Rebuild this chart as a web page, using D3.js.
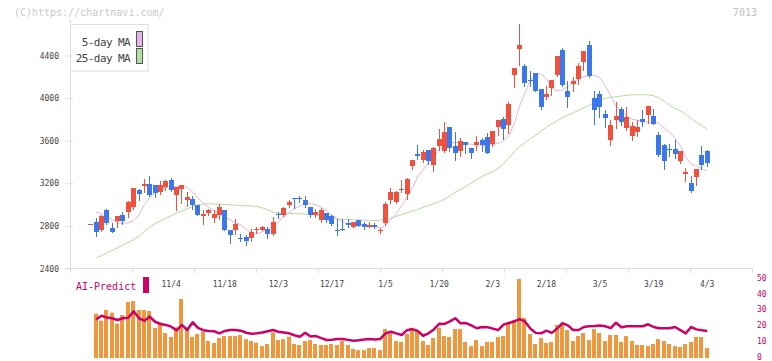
<!DOCTYPE html>
<html><head><meta charset="utf-8">
<script src="https://cdn.jsdelivr.net/npm/d3@7"></script>
<style>
html,body{margin:0;padding:0;background:#fff;}
svg{display:block;}
text{font-family:"DejaVu Sans Mono",monospace;}
</style></head><body>
<svg id="chart" width="772" height="361"></svg>
<script>
const dates = ["10/10","10/14","10/15","10/16","10/17","10/20","10/21","10/22","10/23","10/24","10/27","10/28","10/29","10/30","10/31",
"11/4","11/5","11/6","11/7","11/10","11/11","11/12","11/13","11/14","11/17","11/18","11/19","11/20","11/21","11/25","11/26","11/27","11/28",
"12/1","12/2","12/3","12/4","12/5","12/8","12/9","12/10","12/11","12/12","12/15","12/16","12/17","12/18","12/19","12/22","12/23","12/24","12/25","12/26","12/29","12/30",
"1/5","1/6","1/7","1/8","1/9","1/13","1/14","1/15","1/16","1/19","1/20","1/21","1/22","1/23","1/26","1/27","1/28","1/29","1/30",
"2/2","2/3","2/4","2/5","2/6","2/9","2/10","2/12","2/13","2/16","2/17","2/18","2/19","2/20","2/24","2/25","2/26","2/27",
"3/2","3/3","3/4","3/5","3/6","3/9","3/10","3/11","3/12","3/13","3/16","3/17","3/18","3/19","3/23","3/24","3/25","3/26","3/27","3/30","3/31",
"4/1","4/2","4/3"];

const opens = [2818,2832,2763,2951,2782,2845,2904,2930,2982,3139,3170,3192,3186,3114,3161,3233,3092,3148,3045,3054,2998,2895,2920,2876,2904,2945,2760,2757,2690,2695,2682,2757,2763,2773,2726,2915,2898,2998,3060,3062,3039,2982,2898,2851,2920,2895,2760,2772,2826,2794,2851,2817,2794,2810,2748,2826,3045,3029,3133,3099,3364,3476,3421,3515,3374,3552,3499,3724,3552,3499,3587,3530,3555,3602,3634,3571,3733,3802,3749,4219,4463,4297,4172,4235,4087,4015,4094,4219,4453,4069,4131,4181,4338,4500,4000,4038,3853,3602,3790,3900,3718,3646,3684,3806,3843,3834,3655,3561,3518,3524,3411,3283,3202,3261,3468,3505];
const highs = [2822,2873,2904,2960,2826,2895,2932,3036,3160,3148,3242,3270,3186,3223,3233,3254,3161,3186,3117,3085,2998,2945,2960,2945,3010,2945,2760,2864,2726,2710,2773,2792,2800,2794,2879,2935,2973,3045,3060,3085,3085,2982,2958,2967,2920,2900,2864,2864,2864,2841,2851,2832,2832,2826,2780,3020,3155,3130,3233,3249,3420,3562,3515,3515,3540,3712,3771,3724,3686,3630,3587,3530,3646,3624,3671,3693,3796,3827,3968,4287,4698,4319,4256,4240,4087,4116,4172,4397,4475,4156,4194,4334,4438,4538,4069,4069,3890,3790,3968,3921,3921,3771,3790,3890,3928,3900,3677,3571,3571,3608,3505,3339,3264,3336,3546,3515];
const lows = [2818,2707,2754,2817,2747,2794,2820,2888,2963,3039,3117,3083,3070,3101,3139,3132,2951,3014,2989,2963,2904,2820,2904,2841,2869,2763,2635,2726,2654,2620,2654,2738,2757,2685,2716,2873,2895,2982,2970,3029,2982,2888,2883,2841,2841,2810,2716,2757,2789,2789,2795,2770,2789,2782,2730,2810,3014,3014,3123,3054,3336,3430,3399,3383,3320,3515,3493,3499,3421,3461,3483,3442,3515,3505,3483,3546,3655,3615,3671,4100,4313,4118,4118,4062,3900,3990,4025,4203,4118,3912,4062,4131,4266,4197,3756,3818,3733,3561,3718,3749,3696,3608,3646,3740,3765,3759,3458,3336,3461,3436,3395,3223,3123,3186,3333,3364];
const closes = [2822,2747,2895,2826,2747,2895,2845,3029,3158,3104,3195,3089,3108,3186,3223,3139,3161,3186,3076,2998,2904,2914,2951,2914,2979,2763,2710,2820,2683,2654,2745,2770,2794,2726,2832,2905,2967,3023,3050,3055,2998,2904,2935,2951,2857,2817,2755,2768,2810,2841,2801,2794,2810,2790,2763,3007,3123,3115,3146,3240,3420,3452,3495,3414,3536,3615,3677,3536,3489,3599,3555,3489,3587,3561,3489,3693,3796,3709,3946,4287,4500,4141,4156,4062,3912,4040,4172,4391,4125,4006,4162,4306,4438,4209,3890,3912,3812,3749,3834,3780,3822,3740,3728,3778,3928,3759,3468,3411,3512,3477,3505,3308,3130,3336,3374,3395];

const ma5 = [null,2926,2918,2895,2857,2829,2824,2829,2848,2904,2998,3064,3120,3148,3158,3167,3170,3170,3162,3120,3064,3012,2975,2942,2914,2890,2857,2829,2810,2768,2735,2726,
2745,2763,2801,2839,2885,2923,2961,2989,3008,3012,2998,2975,2942,2904,2867,2834,2815,2810,2810,2810,2806,2796,2782,2801,2857,2914,2989,3073,3158,3261,3327,3393,3449,3515,3557,3580,3583,3583,3576,3566,3562,3552,3557,3562,3576,3599,3646,
3759,3928,4050,4163,4219,4228,4181,4097,4069,4078,4106,4153,4181,4200,4214,4214,4191,4116,4022,3928,3867,3829,3801,3792,3782,3773,3778,3763,3721,3674,3624,3552,3449,3383,3360,3336,3317];
const ma25 = [null,2498,2521,2546,2571,2595,2621,2646,2671,2703,2749,2787,2822,2848,2870,2895,2920,2940,2961,2982,2998,3005,3008,3005,3003,3001,2998,2995,2992,2989,2986,2982,
2970,2951,2930,2918,2918,2917,2916,2914,2911,2909,2904,2895,2885,2876,2869,2864,2861,2858,2855,2853,2851,2851,2853,2862,2871,2890,2907,2923,2939,2955,2975,2993,3009,3028,3050,3083,3116,3144,3172,3203,3233,3263,3289,3310,3341,3383,3435,
3496,3543,3580,3618,3651,3688,3726,3759,3787,3815,3839,3862,3886,3909,3932,3958,3979,3998,4008,4012,4020,4026,4031,4031,4031,4031,4022,4003,3970,3932,3904,3881,3848,3810,3773,3740,3707];

const aiBars = [null,27.9,23.5,30.2,28.5,21.6,27,35.2,35.8,30.2,30.2,29.6,18.9,22.4,15.7,13.2,19.3,37.1,19.3,13.2,15.1,16.5,10.7,9.4,12.6,13.8,13.8,13.8,14.5,11.9,10.7,9.6,
7.5,8.8,16.1,11.3,11.9,13.4,8.8,8.2,10.7,11.3,8.8,8.2,8.2,8.8,8.2,10.7,8.2,5.7,5,5,6.3,6.3,5,18.2,15.5,10.7,10.1,15.1,18.2,17,10.7,8.2,12.6,19.1,13.8,13.2,18.2,18.2,10.1,7.5,11.3,7.5,10.1,10.1,13.2,13.8,21.8,
23.9,49.7,25.2,15.1,8.8,12.6,9.4,10.1,20.8,21.4,17.6,10.7,13.8,15.7,11.3,18.2,15.7,10.7,14.5,14.5,10.1,13.8,10.7,8.2,8.2,7.5,8.8,11.9,10.7,8.8,7.5,6.9,8.8,10.1,13.2,13.2,6.3];
const aiLine = [null,24.3,26.6,25.4,25,23.9,25,25.3,29.4,25,23.5,26,22.8,21.4,20.8,19.7,17.4,20.8,17.6,22.5,19,17.5,17,16.8,15.5,17,17.6,17.6,17.2,15.9,15.3,15.5,
16,16.8,17.6,16.5,16,15.5,14.3,13.4,15.9,13.5,13.8,12.5,11.3,11.5,11.9,11.9,11.4,10.9,11.2,11.6,11.9,11.6,12,15.5,16.5,15.5,14.5,17.5,18.2,17,14,15.5,18,21.5,21.4,23,25,21.8,22,20.5,18.7,19.5,19.4,18.5,17.6,21,22,
23,24.5,23,18.5,15.8,15.5,17.2,15.8,18.5,22,20.5,17.6,17.6,19.5,20,20.1,20.5,20,18.8,22.2,19.3,20,20,20,20,21.2,19.5,18.7,18.7,18.7,19.5,17.5,15.5,19.5,18,17.4,17];

const yTicks = [2400,2800,3200,3600,4000,4400];
const aiTicks = [0,10,20,30,40,50];
const xLabels = ["11/4","11/18","12/3","12/17","1/5","1/20","2/3","2/18","3/5","3/19","4/3"];
const legendItems = ["5-day MA","25-day MA"];

const COL = {up:"#f0503c", down:"#3c78eb", ma5:"#e6b4e6", ma25:"#b4dca0", bar:"#f0963c", ai:"#cc0066", axis:"#dddddd"};

const svg = d3.select("#chart");
const x = d3.scaleBand().domain(dates).range([88.1, 88.1 + 5.36*dates.length]).padding(0);
const cx = d => x(d) + x.bandwidth()/2;
const y = d3.scaleLinear().domain([2400,4400]).range([268.5,55.5]);
const yAI = d3.scaleLinear().domain([0,50]).range([358,278.5]);
const xg = d3.scaleLinear().domain([0,11]).range([70,752]);

// watermark & code
svg.append("text").attr("x",14).attr("y",16).attr("font-size",10).attr("fill","#c8c8c8").text("(C)https://chartnavi.com/");
svg.append("text").attr("x",757).attr("y",16).attr("text-anchor","end").attr("font-size",10).attr("fill","#c0c0c0").text("7013");

// y axis
svg.append("line").attr("x1",70.5).attr("x2",70.5).attr("y1",20).attr("y2",268.5).attr("stroke",COL.axis);
const yAxis = d3.axisLeft(y).tickValues(yTicks).tickSize(0).tickPadding(11).tickFormat(d3.format("d"));
const gy = svg.append("g").attr("transform","translate(70,0)").call(yAxis);
gy.select(".domain").remove();
gy.selectAll(".tick text").attr("font-family","DejaVu Sans Mono").attr("font-size",8).attr("fill","#444");
gy.selectAll(".tick").append("line").attr("x1",-5).attr("x2",3).attr("stroke",COL.axis);

// x axis
svg.append("line").attr("x1",65).attr("x2",752.5).attr("y1",268.5).attr("y2",268.5).attr("stroke",COL.axis);
const xAxis = d3.axisBottom(xg).tickValues(d3.range(12)).tickSize(5).tickFormat("");
const gx = svg.append("g").attr("transform","translate(0,268)").call(xAxis);
gx.select(".domain").remove();
gx.selectAll(".tick line").attr("stroke",COL.axis);
svg.selectAll("text.xl").data(xLabels).join("text").attr("class","xl")
  .attr("x",d=>cx(d)).attr("y",287).attr("text-anchor","middle").attr("font-size",8).attr("fill","#444").text(d=>d);

// MA lines
const idx = d3.range(dates.length);
const maLine = arr => d3.line().defined(i=>arr[i]!=null).x(i=>cx(dates[i])).y(i=>y(arr[i]));
svg.append("path").attr("d",maLine(ma25)(idx)).attr("fill","none").attr("stroke",COL.ma25).attr("stroke-width",1);
svg.append("path").attr("d",maLine(ma5)(idx)).attr("fill","none").attr("stroke",COL.ma5).attr("stroke-width",1);

// candles
const cg = svg.append("g");
idx.forEach(i=>{
  const r = Math.round(cx(dates[i]) - 0.5);
  const col = closes[i] >= opens[i] ? COL.up : COL.down;
  const top = Math.round(y(Math.max(opens[i],closes[i])));
  const bot = Math.round(y(Math.min(opens[i],closes[i])));
  cg.append("line").attr("x1",r+0.5).attr("x2",r+0.5)
    .attr("y1",Math.round(y(highs[i]))).attr("y2",Math.round(y(lows[i]))+1).attr("stroke",col).attr("stroke-width",1);
  cg.append("rect").attr("x",r-2).attr("width",5).attr("y",top).attr("height",Math.max(1,bot-top)).attr("fill",col);
});

// legend
const lg = svg.append("g");
lg.append("rect").attr("x",70.5).attr("y",24.5).attr("width",77.5).attr("height",46.5).attr("fill","#fff").attr("stroke",COL.axis);
legendItems.forEach((t,k)=>{
  lg.append("text").attr("x",130).attr("y",46+k*15.5).attr("text-anchor","end").attr("font-size",11).attr("letter-spacing",-0.6).attr("fill","#444").text(t);
  lg.append("rect").attr("x",136.5).attr("y",31.5+k*17).attr("width",6).attr("height",15).attr("fill",k?COL.ma25:COL.ma5).attr("stroke","#555");
});

// AI-Predict panel
svg.append("text").attr("x",76).attr("y",290).attr("font-size",10).attr("fill",COL.ai).text("AI-Predict");
svg.append("rect").attr("x",143).attr("y",277).attr("width",6).attr("height",16).attr("fill",COL.ai);
const bg = svg.append("g");
idx.filter(i=>aiBars[i]!=null).forEach(i=>{
  const r = Math.round(cx(dates[i]) - 0.5);
  const t = yAI(aiBars[i]);
  bg.append("rect").attr("x",r-2).attr("width",4).attr("y",t).attr("height",yAI(0)-t).attr("fill",COL.bar);
});
svg.append("path").attr("d",d3.line().defined(i=>aiLine[i]!=null).x(i=>cx(dates[i])).y(i=>yAI(aiLine[i]))(idx))
  .attr("fill","none").attr("stroke",COL.ai).attr("stroke-width",2.5).attr("stroke-linejoin","round");
const aiAxis = d3.axisRight(yAI).tickValues(aiTicks).tickSize(0).tickPadding(0);
const ga = svg.append("g").attr("transform","translate(757,0)").call(aiAxis);
ga.select(".domain").remove();
ga.selectAll(".tick text").attr("font-family","DejaVu Sans Mono").attr("font-size",8).attr("fill",COL.ai)
  .attr("text-anchor","start").attr("dy","0.2em");
</script>
</body></html>
